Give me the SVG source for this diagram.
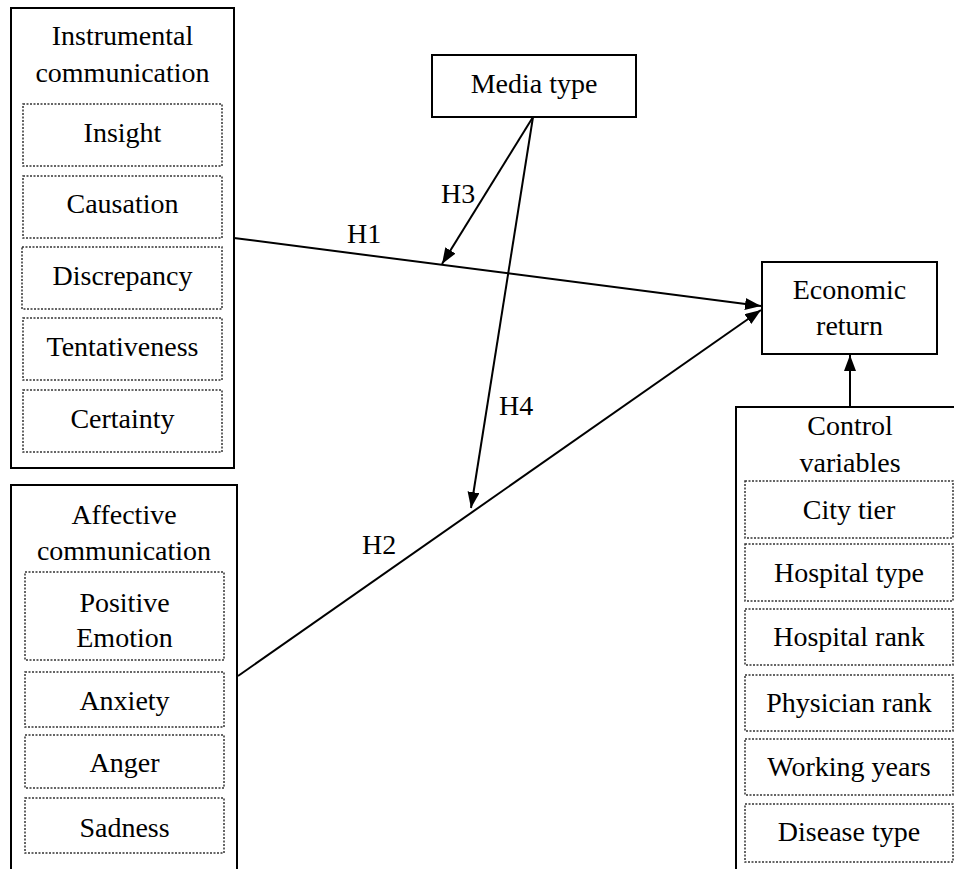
<svg xmlns="http://www.w3.org/2000/svg" width="954" height="869" viewBox="0 0 954 869">
<defs>
<marker id="arr" markerUnits="userSpaceOnUse" markerWidth="18" markerHeight="14" refX="16" refY="6" orient="auto">
<path d="M0,0 L16,6 L0,12 z" fill="#000"/>
</marker>
<style>
.outer{fill:#fff;stroke:#000;stroke-width:2}
.sub{fill:#fff;stroke:#333;stroke-width:1.5;stroke-dasharray:2 1.5}
text{font-family:"Liberation Serif","Times New Roman",serif;font-size:28px;fill:#000;text-anchor:middle}
.lbl{text-anchor:start}
.conn line{stroke:#000;stroke-width:2;fill:none}
</style>
</defs>
<rect width="954" height="869" fill="#fff"/>
<g id="instrumental">
<rect class="outer" x="11" y="8" width="223" height="460"/>
<text x="122.5" y="45">Instrumental</text>
<text x="122.5" y="82">communication</text>
</g>
<g id="insight"><rect class="sub" x="23" y="104" width="199" height="62"/><text x="122.5" y="142">Insight</text></g>
<g id="causation"><rect class="sub" x="23" y="176" width="199" height="62"/><text x="122.5" y="213">Causation</text></g>
<g id="discrepancy"><rect class="sub" x="22" y="247" width="200" height="62"/><text x="122.5" y="285">Discrepancy</text></g>
<g id="tentativeness"><rect class="sub" x="23" y="318" width="199" height="62"/><text x="122.5" y="356">Tentativeness</text></g>
<g id="certainty"><rect class="sub" x="23" y="390" width="199" height="62"/><text x="122.5" y="428">Certainty</text></g>
<g id="affective">
<rect class="outer" x="11" y="485" width="226" height="400"/>
<text x="124" y="524">Affective</text>
<text x="124" y="560">communication</text>
</g>
<g id="positive"><rect class="sub" x="25" y="572" width="199" height="88"/><text x="124.5" y="612">Positive</text><text x="124.5" y="647">Emotion</text></g>
<g id="anxiety"><rect class="sub" x="25" y="672" width="199" height="55"/><text x="124.5" y="710">Anxiety</text></g>
<g id="anger"><rect class="sub" x="25" y="735" width="199" height="53"/><text x="124.5" y="772">Anger</text></g>
<g id="sadness"><rect class="sub" x="25" y="798" width="199" height="55"/><text x="124.5" y="837">Sadness</text></g>
<g id="media"><rect class="outer" x="432" y="55" width="204" height="62"/><text x="534" y="93">Media type</text></g>
<g id="economic"><rect class="outer" x="762" y="262" width="175" height="92"/><text x="849.5" y="299">Economic</text><text x="849.5" y="335">return</text></g>
<g id="control">
<rect class="outer" x="736" y="407" width="230" height="480"/>
<text x="850" y="435">Control</text>
<text x="850" y="472">variables</text>
</g>
<g id="city"><rect class="sub" x="745" y="481" width="208" height="57"/><text x="849" y="519">City tier</text></g>
<g id="htype"><rect class="sub" x="745" y="544" width="208" height="57"/><text x="849" y="582">Hospital type</text></g>
<g id="hrank"><rect class="sub" x="745" y="609" width="208" height="56"/><text x="849" y="646">Hospital rank</text></g>
<g id="prank"><rect class="sub" x="745" y="675" width="208" height="56"/><text x="849" y="712">Physician rank</text></g>
<g id="wyears"><rect class="sub" x="745" y="739" width="208" height="56"/><text x="849" y="776">Working years</text></g>
<g id="dtype"><rect class="sub" x="745" y="804" width="208" height="58"/><text x="849" y="841">Disease type</text></g>
<g class="conn" id="connectors">
<line x1="234" y1="238" x2="761" y2="306" marker-end="url(#arr)"/>
<line x1="238" y1="676" x2="761" y2="310" marker-end="url(#arr)"/>
<line x1="533" y1="117" x2="442" y2="264" marker-end="url(#arr)"/>
<line x1="533" y1="117" x2="471" y2="508" marker-end="url(#arr)"/>
<line x1="850" y1="407" x2="850" y2="355" marker-end="url(#arr)"/>
</g>
<g id="labels">
<text class="lbl" x="347" y="243">H1</text>
<text class="lbl" x="441" y="203">H3</text>
<text class="lbl" x="499" y="415">H4</text>
<text class="lbl" x="362" y="554">H2</text>
</g>
</svg>
